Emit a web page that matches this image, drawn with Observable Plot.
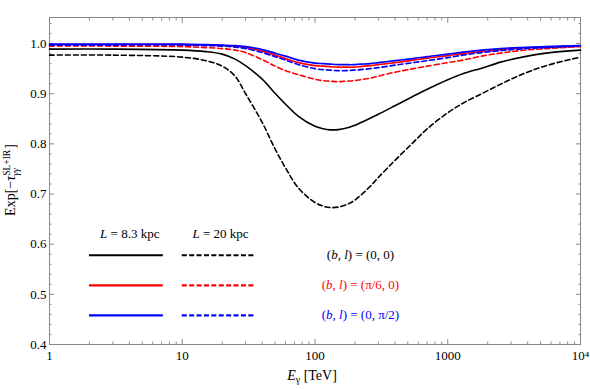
<!DOCTYPE html>
<html>
<head>
<meta charset="utf-8">
<script src="https://cdn.jsdelivr.net/npm/d3@7"></script>
<script src="https://cdn.jsdelivr.net/npm/@observablehq/plot@0.6"></script>
<style>
  body { margin: 0; background: #fff; }
  svg { display: block; }
  svg, svg text { font-family: "Liberation Serif", "Times New Roman", serif !important; }
</style>
</head>
<body>
<div id="chart"></div>
<script>
// ---- data ----
const energies = [1, 3, 10, 15, 20, 25, 30, 40, 50, 60, 75, 100, 115, 130, 150, 170, 195, 220, 260, 300, 400, 550, 700, 1000, 1300, 1800, 2500, 3500, 5500, 10000];
// L = 8.3 kpc (solid)
const solid_0_0    = [0.989, 0.989, 0.987, 0.984, 0.979, 0.969, 0.956, 0.929, 0.901, 0.879, 0.855, 0.835, 0.830, 0.828, 0.8285, 0.831, 0.836, 0.842, 0.851, 0.859, 0.876, 0.895, 0.909, 0.928, 0.940, 0.951, 0.963, 0.972, 0.981, 0.987];
const solid_pi6_0  = [0.998, 0.998, 0.998, 0.997, 0.996, 0.995, 0.992, 0.985, 0.977, 0.970, 0.962, 0.956, 0.955, 0.954, 0.953, 0.953, 0.953, 0.954, 0.956, 0.958, 0.962, 0.967, 0.971, 0.976, 0.980, 0.984, 0.988, 0.991, 0.993, 0.995];
const solid_0_pi2  = [0.999, 0.999, 0.999, 0.998, 0.997, 0.996, 0.994, 0.988, 0.981, 0.975, 0.967, 0.961, 0.960, 0.959, 0.958, 0.958, 0.958, 0.959, 0.960, 0.962, 0.966, 0.970, 0.974, 0.979, 0.983, 0.987, 0.990, 0.992, 0.994, 0.996];
// L = 20 kpc (dashed)
const dashed_0_0   = [0.977, 0.977, 0.973, 0.966, 0.955, 0.935, 0.900, 0.843, 0.790, 0.752, 0.712, 0.683, 0.676, 0.673, 0.674, 0.678, 0.686, 0.697, 0.715, 0.733, 0.767, 0.803, 0.830, 0.862, 0.881, 0.900, 0.919, 0.937, 0.956, 0.973];
const dashed_pi6_0 = [0.995, 0.995, 0.994, 0.992, 0.990, 0.987, 0.982, 0.968, 0.955, 0.946, 0.938, 0.929, 0.926, 0.925, 0.924, 0.925, 0.926, 0.928, 0.931, 0.935, 0.943, 0.950, 0.955, 0.962, 0.967, 0.975, 0.981, 0.986, 0.990, 0.994];
const dashed_0_pi2 = [0.997, 0.997, 0.997, 0.996, 0.995, 0.993, 0.990, 0.982, 0.974, 0.967, 0.958, 0.950, 0.948, 0.947, 0.946, 0.946, 0.947, 0.948, 0.950, 0.952, 0.957, 0.962, 0.966, 0.972, 0.977, 0.982, 0.986, 0.989, 0.992, 0.995];

const xTickLabels = [1, 10, 100, 1000, 10000];
const yTickLabels = [0.4, 0.5, 0.6, 0.7, 0.8, 0.9, 1.0];
const distanceLabels = ["8.3", "20"];
const directionLabels = [["0", "0"], ["π/6", "0"], ["0", "π/2"]];

// ---- helpers ----
const GRAY = "#8a8a8a";
const FONT = "Liberation Serif, Times New Roman, serif";
const xMinor = [];
for (const d of [1, 10, 100, 1000]) for (let k = 2; k <= 9; k++) xMinor.push(d * k);
const yMinor = d3.range(0.42, 1.05, 0.02).map(v => +v.toFixed(2)).filter(v => Math.abs(v * 10 - Math.round(v * 10)) > 1e-6);

const rows = vals => energies.map((E, i) => ({E, v: vals[i]}));
const curve = "catmull-rom";
const lineOpts = (stroke, dashed) => ({x: "E", y: "v", stroke, strokeWidth: 1.6, curve, strokeDasharray: dashed ? "5,3" : null});

const colors = ["black", "#ff0000", "#0000ff"];
const legendY = [0.578, 0.518, 0.458];

const chart = Plot.plot({
  width: 590,
  height: 389,
  marginLeft: 49,
  marginRight: 10,
  marginTop: 17,
  marginBottom: 45,
  style: {fontFamily: FONT, fontSize: "13px", background: "white", color: "black"},
  x: {type: "log", domain: [1, 1e4]},
  y: {domain: [0.4, 1.052]},
  marks: [
    Plot.frame({stroke: GRAY}),
    Plot.axisX({ticks: xTickLabels, anchor: "bottom", tickSize: -5, fill: "none", stroke: GRAY, label: null}),
    Plot.axisX({ticks: xMinor, anchor: "bottom", tickSize: -2.5, fill: "none", stroke: GRAY, label: null}),
    Plot.axisX({ticks: xTickLabels, anchor: "top", tickSize: -5, fill: "none", stroke: GRAY, label: null}),
    Plot.axisX({ticks: xMinor, anchor: "top", tickSize: -2.5, fill: "none", stroke: GRAY, label: null}),
    Plot.axisY({ticks: yTickLabels, anchor: "left", tickSize: -5, fill: "none", stroke: GRAY, label: null}),
    Plot.axisY({ticks: yMinor, anchor: "left", tickSize: -2.5, fill: "none", stroke: GRAY, label: null}),
    Plot.axisY({ticks: yTickLabels, anchor: "right", tickSize: -5, fill: "none", stroke: GRAY, label: null}),
    Plot.axisY({ticks: yMinor, anchor: "right", tickSize: -2.5, fill: "none", stroke: GRAY, label: null}),
    Plot.axisX({ticks: xTickLabels, anchor: "bottom", tickSize: 0, tickPadding: 6, label: null,
      tickFormat: d => d === 10000 ? "10⁴" : String(d)}),
    Plot.axisY({ticks: yTickLabels, anchor: "left", tickSize: 0, tickPadding: 3, label: null,
      tickFormat: d3.format(".1f")}),

    Plot.line(rows(dashed_0_0), lineOpts(colors[0], true)),
    Plot.line(rows(solid_0_0), lineOpts(colors[0], false)),
    Plot.line(rows(dashed_pi6_0), lineOpts(colors[1], true)),
    Plot.line(rows(solid_pi6_0), lineOpts(colors[1], false)),
    Plot.line(rows(dashed_0_pi2), lineOpts(colors[2], true)),
    Plot.line(rows(solid_0_pi2), lineOpts(colors[2], false)),

    // legend samples
    ...colors.map((c, i) => Plot.ruleY([legendY[i]], {x1: 2, x2: 7.2, stroke: c, strokeWidth: 2.2})),
    ...colors.map((c, i) => Plot.ruleY([legendY[i]], {x1: 10, x2: 36, stroke: c, strokeWidth: 2.2, strokeDasharray: "5,2.4"}))
  ]
});

document.getElementById("chart").appendChild(chart);

// ---- rich text labels ----
const svg = d3.select(chart);
const sx = chart.scale("x"), sy = chart.scale("y");

function rich(x, y, parts, {color = "black", anchor = "middle", size = 13} = {}) {
  const t = svg.append("text")
    .attr("x", x).attr("y", y)
    .attr("text-anchor", anchor)
    .attr("fill", color)
    .style("font-size", size + "px");
  for (const p of parts) {
    const s = t.append("tspan").text(p.t);
    if (p.i) s.style("font-style", "italic");
    if (p.size) s.style("font-size", p.size + "px");
    if (p.dy != null) s.attr("dy", p.dy);
    if (p.dx != null) s.attr("dx", p.dx);
  }
  return t;
}

// legend headers
distanceLabels.forEach((d, i) => {
  rich(sx.apply(i === 0 ? 4.06 : 19.6), sy.apply(0.612),
    [{t: "L", i: 1}, {t: " = " + d + " kpc"}]);
});
// direction labels
directionLabels.forEach(([b, l], i) => {
  rich(sx.apply(222), sy.apply(legendY[i]) + 4,
    [{t: "("}, {t: "b", i: 1}, {t: ", "}, {t: "l", i: 1}, {t: ") = (" + b + ", " + l + ")"}],
    {color: colors[i]});
});

// x axis label
rich(312, 380, [{t: "E", i: 1}, {t: "γ", size: 10, dy: 3}, {t: " [TeV]", dy: -3}], {size: 14});

// y axis label with stacked super/subscript
{
  const t = svg.append("text")
    .attr("transform", "translate(15,180) rotate(-90)")
    .attr("text-anchor", "middle")
    .style("font-size", "14px");
  t.append("tspan").text("Exp[−");
  t.append("tspan").text("τ").style("font-style", "italic");
  const sup = t.append("tspan").text("SL+IR").style("font-size", "9.5px").attr("dy", -5.5);
  const wSup = sup.node().getComputedTextLength();
  const sub = t.append("tspan").text("γγ").style("font-size", "9.5px").style("font-style", "italic")
    .attr("dx", -wSup).attr("dy", 9.5);
  const wSub = sub.node().getComputedTextLength();
  t.append("tspan").text("]").attr("dx", Math.max(0, wSup - wSub) + 1).attr("dy", -4);
}
</script>
</body>
</html>
